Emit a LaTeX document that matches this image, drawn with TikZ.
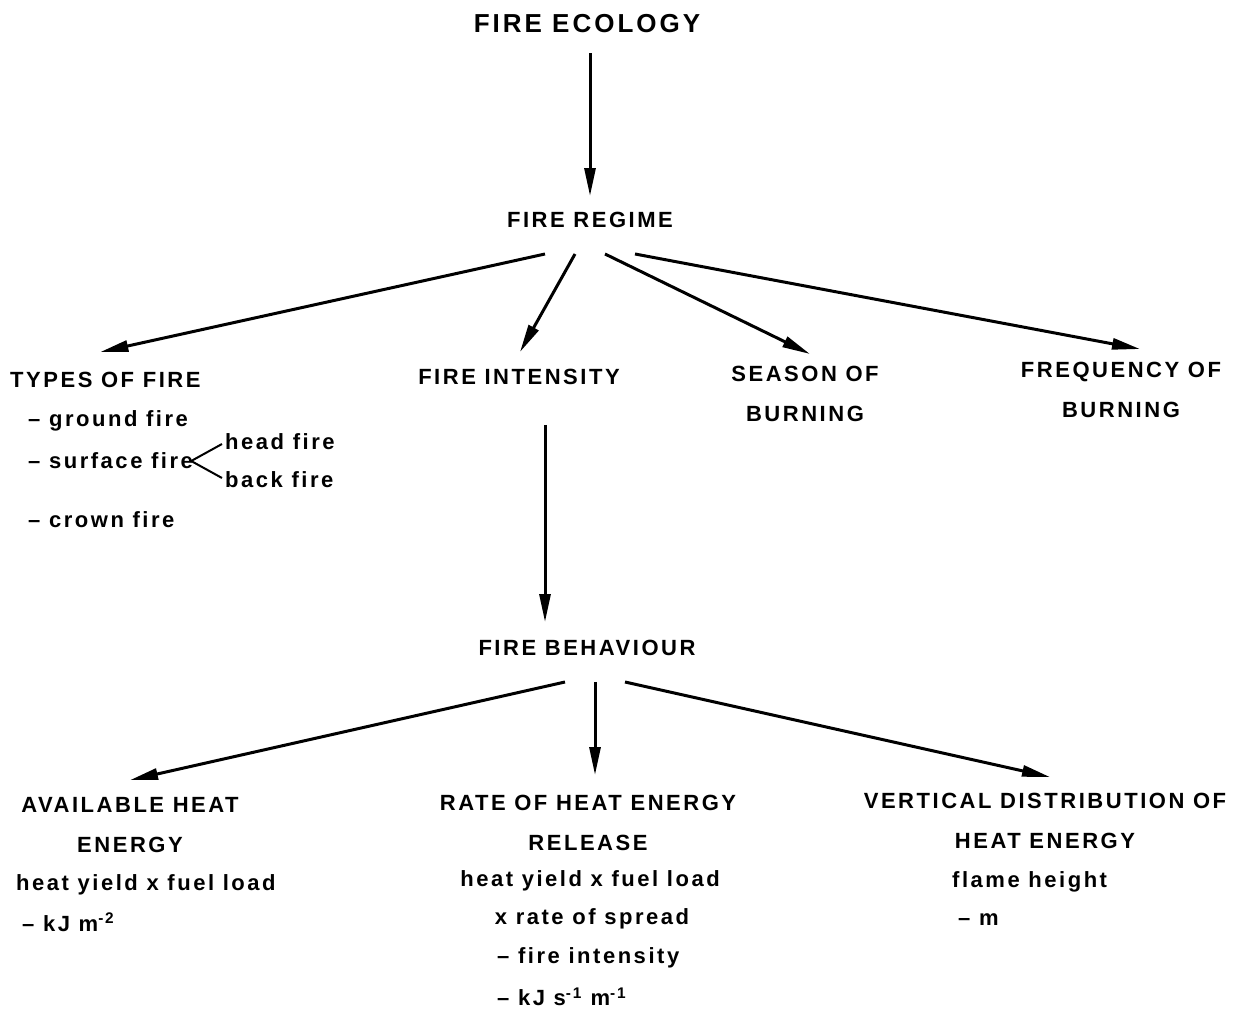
\documentclass[tikz,border=0pt]{standalone}
\usepackage{fontspec}
\usepackage{tikz}
\usetikzlibrary{arrows.meta,calc}
\newfontfamily\lblfont[LetterSpace=11.5]{Liberation Sans}
\newcommand{\lblsize}{\fontsize{22}{40}\selectfont}
\newcommand{\ttlsize}{\fontsize{26}{30}\selectfont}

\begin{document}
\begin{tikzpicture}[x=1pt,y=-1pt,font=\lblfont\lblsize\bfseries,
  lbl/.style={inner sep=0pt},
  hdr/.style={lbl,align=center},
  arr/.style={-{Triangle[length=28pt,width=11pt]},line width=3pt},
  fork/.style={line width=2pt}]
\useasboundingbox (0,0) rectangle (1241,1011);

% ===================== Top: fire ecology -> fire regime =====================
\node[lbl,font=\lblfont\ttlsize\bfseries] (eco) at (587,24) {FIRE ECOLOGY};
\node[lbl] (regime) at (590,220) {FIRE REGIME};
\draw[arr] ($(eco.south)+(3,20)$) -- ($(regime.north)+(0,-16)$);

% ===================== Row 2: components of the regime =====================
\node[lbl,anchor=west] (types) at (10,380) {TYPES OF FIRE};
\node[lbl] (intensity) at (519,377) {FIRE INTENSITY};
\node[hdr] (season) at (805,394) {SEASON OF\\BURNING};
\node[hdr] (frequency) at (1121,390) {FREQUENCY OF\\BURNING};

\draw[arr] ($(regime.south)+(-45,26)$) -- ($(types.north)+(-5,-20)$);
\draw[arr] ($(regime.south)+(-15,26)$) -- ($(intensity.north)+(1,-17)$);
\draw[arr] ($(regime.south)+(15,26)$) -- ($(season.north)+(5,-12)$);
\draw[arr] ($(regime.south)+(45,26)$) -- ($(frequency.north)+(19,-13)$);

% ---- types of fire ----
\node[lbl,anchor=west] (ground) at (28,421) {– ground fire};
\node[lbl,anchor=west] (surface) at (28,461) {– surface fire};
\node[lbl,anchor=west] (head) at (225,442) {head fire};
\node[lbl,anchor=west] (back) at (225,480) {back fire};
\node[lbl,anchor=west] (crown) at (28,520) {– crown fire};
\draw[fork] ($(surface.east)+(-2,0)$) -- ($(head.west)+(-3,2)$);
\draw[fork] ($(surface.east)+(-2,0)$) -- ($(back.west)+(-3,-2)$);

% ===================== Fire behaviour =====================
\node[lbl] (behaviour) at (587,648) {FIRE BEHAVIOUR};
\draw[arr] ($(intensity.south)+(26,40)$) -- ($(behaviour.north)+(-42,-18)$);

% ===================== Row 3: aspects of behaviour =====================
\node[hdr] (avail) at (130,825) {AVAILABLE HEAT\\ENERGY};
\node[hdr] (rate) at (588,823) {RATE OF HEAT ENERGY\\RELEASE};
\node[hdr] (vert) at (1045,821) {VERTICAL DISTRIBUTION OF\\HEAT ENERGY};

\draw[arr] ($(behaviour.south)+(-22,26)$) -- ($(avail.north)+(0,-17)$);
\draw[arr] ($(behaviour.south)+(8,26)$) -- ($(rate.north)+(7,-20)$);
\draw[arr] ($(behaviour.south)+(38,26)$) -- ($(vert.north)+(5,-16)$);

% ---- measures ----
\node[lbl,anchor=west] (ayield) at (16,885) {heat yield x fuel load};
\node[lbl,anchor=west] (aunit) at (22,922) {– kJ m\textsuperscript{-2}};

\node[lbl] (ryield) at (590,881) {heat yield x fuel load};
\node[lbl] (rspread) at (592,919) {x rate of spread};
\node[lbl,anchor=west] (rint) at (497,958) {– fire intensity};
\node[lbl,anchor=west] (runit) at (497,997) {– kJ s\textsuperscript{-1} m\textsuperscript{-1}};

\node[lbl,anchor=west] (flame) at (952,882) {flame height};
\node[lbl,anchor=west] (vunit) at (958,920) {– m};

\end{tikzpicture}
\end{document}
